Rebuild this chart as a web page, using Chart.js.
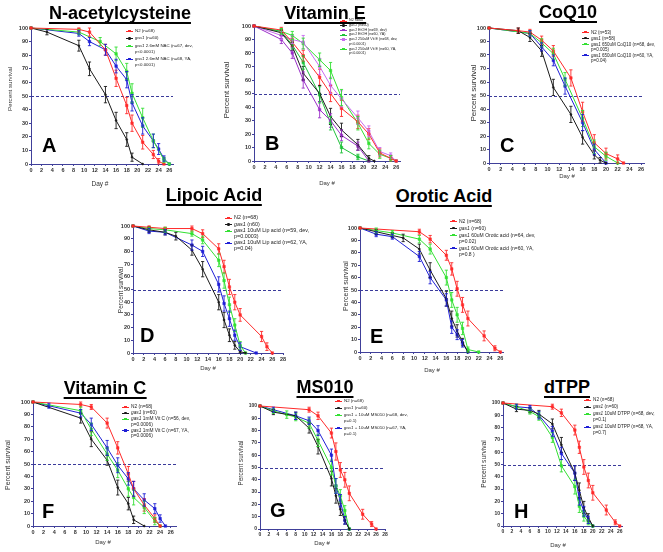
<!DOCTYPE html>
<html>
<head>
<meta charset="utf-8">
<script src="https://cdn.jsdelivr.net/npm/chart.js@4.4.1/dist/chart.umd.min.js"></script>
<style>
  body { margin: 0; background: #fff; font-family: "Liberation Sans", Arial, sans-serif; }
  #fig { position: relative; width: 663px; height: 552px; overflow: hidden; background: #fff; }
  canvas { position: absolute; }
  .ttl { position: absolute; font-weight: bold; font-size: 18px; line-height: 18px; white-space: nowrap;
         border-bottom: 2.5px solid #000; transform: translateX(-50%); color: #000; }
  .let { position: absolute; font-weight: bold; font-size: 20px; line-height: 20px; color: #000; }
  .ytl { position: absolute; white-space: nowrap; color: #333; transform: translate(-50%, -50%) rotate(-90deg); }
  .xtl { position: absolute; white-space: nowrap; color: #333; transform: translate(-50%, -50%); }
  .leg { position: absolute; color: #222; }
  .leg .it { position: relative; white-space: pre; }
  .leg .sw { position: absolute; left: 0; width: 7px; height: 1px; }
  .leg .mk { position: absolute; left: 2.3px; top: -1px; width: 2.4px; height: 2.4px; }
</style>
</head>
<body>
<div id="fig"></div>
<script>
// ---- data: [day, % survival, sem] ----
// A  N-acetylcysteine
const nacN2   = [[0,100,0],[9,99,2],[11,97,3],[14,84,4],[16,63,6],[18,43,6],[19,30,6],[21,16,5],[23,7,3],[24,2,2],[25,0,0]];
const nacGas1 = [[0,100,0],[3,97,2],[9,87,4],[11,70,5],[14,51,6],[16,32,6],[18,18,5],[19,5,3],[21,0,0]];
const nacDev  = [[0,100,0],[9,97,2],[13,90,3],[16,81,5],[18,68,6],[19,52,7],[21,34,7],[23,17,5],[25,3,2],[26,0,0]];
const nacYA   = [[0,100,0],[9,96,2],[11,90,3],[14,84,4],[16,72,5],[18,62,6],[19,45,6],[21,28,6],[23,17,5],[24,11,4],[25,4,2],[26,0,0]];
const nacLabels = ['N2 (n=68)', 'gas1 (n=60)', 'gas1 2.6mM NAC (n=67, dev,\np<0.0001)', 'gas1 2.6mM NAC (n=68, YA,\np<0.0001)'];

// B  Vitamin E
const veN2      = [[0,100,0],[5,97,2],[7,88,3],[9,78,4],[12,62,6],[14,50,6],[16,39,6],[19,29,5],[21,20,4],[23,6,3],[25,2,2],[26,0,0]];
const veGas1    = [[0,100,0],[5,95,2],[7,85,3],[9,65,5],[12,50,6],[14,33,6],[16,23,5],[19,12,4],[21,2,2],[22,0,0]];
const veEtohDev = [[0,100,0],[5,90,3],[7,80,4],[9,60,6],[12,38,6],[14,30,5],[16,19,4],[19,11,3],[21,0,0]];
const veEtohYA  = [[0,100,0],[5,96,2],[7,86,3],[9,73,5],[12,49,6],[14,28,5],[16,10,4],[19,3,2],[21,0,0]];
const veDev     = [[0,100,0],[5,93,3],[7,90,3],[9,88,5],[12,70,6],[14,56,6],[16,46,6],[19,32,5],[21,22,4],[23,7,3],[25,4,2],[26,0,0]];
const veYA      = [[0,100,0],[5,96,2],[7,93,3],[9,87,4],[12,75,5],[14,67,6],[16,47,6],[19,28,5],[21,13,4],[23,5,3],[25,2,2],[26,0,0]];
const veLabels = ['N2 n=60', 'gas1 (n=60)', 'gas1 EtOH (n=69, dev)', 'gas1 EtOH (n=60, YA)',
                  'gas1 250uM Vit E (n=68, dev,\np<0.0001)', 'gas1 250uM Vit E (n=60, YA,\np<0.0001)'];

// C  CoQ10
const coqN2   = [[0,100,0],[5,98,2],[7,97,2],[9,91,3],[11,83,4],[14,63,6],[16,38,7],[18,15,6],[20,7,4],[22,3,3],[23,0,0]];
const coqGas1 = [[0,100,0],[5,98,2],[7,93,3],[9,83,4],[11,56,6],[14,36,6],[16,19,5],[18,6,3],[19,2,2],[20,0,0]];
const coqDev  = [[0,100,0],[7,96,2],[9,89,3],[11,81,4],[13,62,5],[16,33,6],[18,12,5],[20,5,3],[22,0,0]];
const coqYA   = [[0,100,0],[7,96,2],[9,86,3],[11,76,4],[13,57,6],[16,30,6],[18,10,4],[20,0,0]];
const coqLabels = ['N2 (n=53)', 'gas1 (n=58)', 'gas1 650uM CoQ10 (n=68, dev,\np=0.005)', 'gas1 650uM CoQ10 (n=60, YA,\np=0.04)'];

// D  Lipoic Acid
const lipN2   = [[0,100,0],[3,99,1],[6,98,1],[11,98,2],[13,94,3],[16,82,4],[17,68,5],[18,52,6],[19,40,6],[20,30,5],[24,13,4],[25,5,3],[26,0,0]];
const lipGas1 = [[0,100,0],[3,97,2],[6,95,2],[8,92,3],[11,81,4],[13,66,6],[16,40,6],[17,26,6],[18,14,5],[19,6,3],[20,1,1],[21,0,0]];
const lipDev  = [[0,100,0],[3,98,1],[6,97,2],[11,94,2],[13,89,3],[16,73,5],[17,57,6],[18,38,6],[19,22,5],[20,6,3],[21,0,0]];
const lipYA   = [[0,100,0],[3,96,2],[6,95,2],[11,85,4],[13,80,4],[16,54,6],[17,39,6],[18,27,6],[19,14,4],[20,5,3],[23,0,0]];
const lipLabels = ['N2 (n=68)', 'gas1 (n60)', 'gas1 10uM Lip acid (n=59, dev,\np=0.0003)', 'gas1 10uM Lip acid (n=62, YA,\np=0.04)'];

// E  Orotic Acid
const oroN2   = [[0,100,0],[11,97,2],[13,91,3],[16,78,4],[17,67,5],[18,51,6],[19,38,6],[20,27,6],[23,13,4],[25,3,2],[26,0,0]];
const oroGas1 = [[0,100,0],[3,97,2],[6,94,2],[8,92,3],[11,83,4],[13,66,6],[16,43,6],[17,27,6],[18,17,5],[19,8,3],[20,0,0]];
const oroDev  = [[0,100,0],[3,98,2],[6,96,2],[11,91,3],[13,83,4],[16,60,6],[17,42,6],[18,30,6],[19,19,5],[20,2,2],[22,0,0]];
const oroYA   = [[0,100,0],[3,95,2],[6,93,2],[11,77,4],[13,60,5],[16,42,5],[17,20,5],[18,14,4],[19,7,3],[20,0,0]];
const oroLabels = ['N2 (n=68)', 'gas1 (n=60)', 'gas1 60uM Orotic acid (n=64, dev,\np=0.02)', 'gas1 60uM Orotic acid (n=60, YA,\np=0.8 )'];

// F  Vitamin C
const vcN2   = [[0,100,0],[9,98,2],[11,96,2],[14,83,4],[16,63,5],[18,42,6],[19,30,6],[21,17,5],[23,6,3],[24,0,0]];
const vcGas1 = [[0,100,0],[9,87,4],[11,70,6],[14,53,4],[16,31,6],[18,18,5],[19,5,3],[21,0,0]];
const vcDev  = [[0,100,0],[9,93,3],[11,78,5],[14,58,5],[16,45,6],[18,30,6],[19,23,6],[21,15,5],[23,4,3],[24,0,0]];
const vcYA   = [[0,100,0],[3,97,2],[9,91,3],[11,82,5],[14,63,6],[16,49,6],[18,38,5],[19,30,6],[21,21,5],[23,14,4],[24,6,3],[25,0,0]];
const vcLabels = ['N2 (n=68)', 'gas1 (n=60)', 'gas1 1mM Vit C (n=56, dev,\np=0.0006)', 'gas1 1mM Vit C (n=67, YA,\np=0.0006)'];

// G  MS010
const msN2   = [[0,100,0],[11,97,2],[13,92,3],[16,78,4],[17,63,7],[18,48,6],[19,40,6],[20,29,6],[23,12,4],[25,4,2],[26,0,0]];
const msGas1 = [[0,100,0],[3,95,2],[8,92,3],[11,82,4],[13,67,6],[16,41,6],[17,27,6],[18,16,5],[19,7,3],[20,0,0]];
const msDev  = [[0,100,0],[3,96,2],[6,93,3],[8,91,3],[11,86,4],[13,72,5],[16,50,6],[17,35,6],[18,27,5],[19,15,4],[20,0,0]];
const msYA   = [[0,100,0],[3,97,2],[8,92,3],[11,88,3],[13,80,4],[16,60,5],[17,35,6],[18,23,5],[19,7,3],[20,0,0]];
const msLabels = ['N2 (n=68)', 'gas1 (n=60)', 'gas1 + 10uM MS010 (n=68, dev,\np=0.1)', 'gas1 + 10uM MS010 (n=67, YA,\np=0.1)'];

// H  dTPP
const dtN2   = [[0,100,0],[11,97,2],[13,92,3],[16,78,4],[17,64,5],[18,48,6],[19,37,6],[20,27,6],[23,13,4],[25,3,2],[26,0,0]];
const dtGas1 = [[0,100,0],[3,95,2],[6,94,2],[8,91,3],[11,83,4],[13,66,6],[16,43,6],[17,29,6],[18,15,5],[19,7,3],[20,0,0]];
const dtDev  = [[0,100,0],[3,97,2],[6,93,2],[8,89,3],[11,72,4],[13,49,5],[16,32,6],[17,16,5],[18,8,4],[19,3,2],[20,0,0]];
const dtYA   = [[0,100,0],[3,97,2],[6,96,2],[8,90,3],[11,77,4],[13,59,5],[16,43,6],[17,22,5],[18,12,4],[19,5,3],[20,0,0]];
const dtLabels = ['N2 (n=68)', 'gas1 (n=60)', 'gas1 10uM DTPP (n=68, dev,\np=0.1)', 'gas1 10uM DTPP (n=68, YA,\np=0.7)'];

const dayTicks = [0, 2, 4, 6, 8, 10, 12, 14, 16, 18, 20, 22, 24, 26, 28];
const pctTicks = [0, 10, 20, 30, 40, 50, 60, 70, 80, 90, 100];

// ---- styles ----
const RED = '#ff2a2a', BLK = '#1a1a1a', GRN = '#33e033', BLU = '#1f1fd6';
const PUR = '#9b30c8', VIO = '#c86bf0', GRN2 = '#1fc23a';
const AXIS = '#40409a';
const FONT = '"Liberation Sans", Arial, sans-serif';
const std4 = [RED, BLK, GRN, BLU];

// rect = [x of day 0, x of axis end, y of 100%, y of 0%]
const panels = [
  { title: 'N-acetylcysteine', letter: 'A', series: [nacN2, nacGas1, nacDev, nacYA], labels: nacLabels, colors: std4,
    rect: [30.7, 173, 27.7, 163.3], xmax: 26.7, tt: [120, 19.3], lt: [42, 152], yt: [9.3, 89, 6.2], xt: [100, 183, 6.5],
    lg: [126, 28, 4.4, 6, 1.3], tf: 5.5 },
  { title: 'Vitamin E', letter: 'B', series: [veN2, veGas1, veEtohDev, veEtohYA, veDev, veYA], labels: veLabels,
    colors: [RED, BLK, PUR, GRN2, VIO, GRN],
    rect: [254, 399.8, 25.7, 160.7], xmax: 26.7, tt: [325, 19.3], lt: [265, 150], yt: [226, 90, 8], xt: [327, 183, 6],
    lg: [340, 18.3, 3.7, 4.7, 0], tf: 5.5 },
  { title: 'CoQ10', letter: 'C', series: [coqN2, coqGas1, coqDev, coqYA], labels: coqLabels, colors: std4,
    rect: [489, 644, 27.7, 162.3], xmax: 26.5, tt: [568, 18.3], lt: [500, 152], yt: [473, 93, 8], xt: [567, 176, 6],
    lg: [582, 29.5, 4.5, 5, 1], tf: 5.5 },
  { title: 'Lipoic Acid', letter: 'D', series: [lipN2, lipGas1, lipDev, lipYA], labels: lipLabels, colors: std4,
    rect: [132.6, 282.4, 226, 353], xmax: 28, tt: [214, 200.7], lt: [140, 342], yt: [120, 290, 6.5], xt: [208, 368, 6],
    lg: [225, 215, 5.4, 5.5, 1], tf: 5.5 },
  { title: 'Orotic Acid', letter: 'E', series: [oroN2, oroGas1, oroDev, oroYA], labels: oroLabels, colors: std4,
    rect: [360, 503.4, 227.7, 351.7], xmax: 26.5, tt: [444, 201.7], lt: [370, 343], yt: [345, 286, 7], xt: [432, 370, 6],
    lg: [450, 218, 5, 6, 1], tf: 5.5 },
  { title: 'Vitamin C', letter: 'F', series: [vcN2, vcGas1, vcDev, vcYA], labels: vcLabels, colors: std4,
    rect: [32.7, 175.3, 401.7, 525.7], xmax: 27, tt: [105, 394.3], lt: [42, 518], yt: [7, 465, 7], xt: [103, 542, 6],
    lg: [122, 404, 4.8, 5.5, 0.5], tf: 5.5 },
  { title: 'MS010', letter: 'G', series: [msN2, msGas1, msDev, msYA], labels: msLabels, colors: std4,
    rect: [260, 385, 405.7, 528.3], xmax: 28, tt: [325, 393.3], lt: [270, 517], yt: [240, 463, 6.3], xt: [322, 543, 6],
    lg: [335, 398, 4.4, 6, 1], tf: 5 },
  { title: 'dTPP', letter: 'H', series: [dtN2, dtGas1, dtDev, dtYA], labels: dtLabels, colors: std4,
    rect: [503.3, 622.3, 403.3, 526.7], xmax: 26.5, tt: [567, 393.3], lt: [514, 518], yt: [483, 464, 6.7], xt: [558, 545, 6],
    lg: [584, 397, 4.7, 6, 1], tf: 5 }
];

const fig = document.getElementById('fig');

// error bars drawn through the chart's own scales
const errBars = {
  id: 'errBars',
  afterDatasetsDraw(chart) {
    const { ctx, scales: { x, y } } = chart;
    chart.data.datasets.forEach(ds => {
      ctx.save();
      ctx.strokeStyle = ds.borderColor;
      ctx.lineWidth = 0.9;
      ds.data.forEach((pt, j) => {
        const e = ds.sem[j];
        if (!e) return;
        const px = x.getPixelForValue(pt.x);
        const y1 = y.getPixelForValue(Math.min(100, pt.y + e));
        const y2 = y.getPixelForValue(Math.max(0, pt.y - e));
        ctx.beginPath();
        ctx.moveTo(px, y1); ctx.lineTo(px, y2);
        ctx.moveTo(px - 1.6, y1); ctx.lineTo(px + 1.6, y1);
        ctx.moveTo(px - 1.6, y2); ctx.lineTo(px + 1.6, y2);
        ctx.stroke();
      });
      ctx.restore();
    });
  }
};

// dashed 50% line
const halfLine = {
  id: 'halfLine',
  beforeDatasetsDraw(chart) {
    const { ctx, chartArea: a, scales: { y } } = chart;
    const py = Math.round(y.getPixelForValue(50)) + 0.5;
    ctx.save();
    ctx.strokeStyle = '#3a3a9a';
    ctx.lineWidth = 1;
    ctx.setLineDash([3, 2]);
    ctx.beginPath(); ctx.moveTo(a.left, py); ctx.lineTo(a.right, py); ctx.stroke();
    ctx.restore();
  }
};

function addDiv(cls, txt, css) {
  const d = document.createElement('div');
  d.className = cls;
  d.textContent = txt;
  Object.assign(d.style, css);
  fig.appendChild(d);
  return d;
}

function makePanel(p) {
  const padL = 22, padT = 5, padR = 6, padB = 12;
  const [L, R, T, B] = p.rect;
  const left = Math.round(L - padL), top = Math.round(T - padT);
  const w = Math.round(R - L) + padL + padR, h = Math.round(B - T) + padT + padB;
  const cv = document.createElement('canvas');
  cv.width = w; cv.height = h;
  cv.style.left = left + 'px'; cv.style.top = top + 'px';
  cv.style.width = w + 'px'; cv.style.height = h + 'px';
  fig.appendChild(cv);

  const datasets = p.series.map((s, i) => ({
    label: p.labels[i],
    data: s.map(r => ({ x: r[0], y: r[1] })),
    sem: s.map(r => r[2]),
    borderColor: p.colors[i],
    backgroundColor: p.colors[i],
    borderWidth: 1,
    pointStyle: p.colors[i] === BLK ? 'circle' : 'rect',
    pointRadius: p.colors[i] === BLK ? 1 : 1.8,
    pointBorderWidth: 0.5,
    tension: 0,
    clip: 6
  }));

  const tickFont = { size: p.tf, family: FONT, weight: 'bold' };
  new Chart(cv, {
    type: 'line',
    data: { datasets },
    options: {
      responsive: false,
      animation: false,
      events: [],
      layout: { padding: { left: 0, top: padT, right: padR, bottom: 0 } },
      plugins: { legend: { display: false }, tooltip: { enabled: false } },
      scales: {
        x: {
          type: 'linear', min: 0, max: p.xmax,
          afterFit: s => { s.height = padB; },
          afterBuildTicks: s => { s.ticks = dayTicks.filter(v => v <= p.xmax).map(v => ({ value: v })); },
          ticks: { font: tickFont, color: '#333', padding: 1, maxRotation: 0, autoSkip: false, includeBounds: false },
          grid: { display: true, drawOnChartArea: false, drawTicks: true, tickLength: 2, color: AXIS },
          border: { display: true, color: AXIS, width: 1 }
        },
        y: {
          min: 0, max: 100,
          afterFit: s => { s.width = padL; },
          afterBuildTicks: s => { s.ticks = pctTicks.map(v => ({ value: v })); },
          ticks: { font: tickFont, color: '#333', padding: 1, autoSkip: false },
          grid: { display: true, drawOnChartArea: false, drawTicks: true, tickLength: 2, color: AXIS },
          border: { display: true, color: AXIS, width: 1 }
        }
      }
    },
    plugins: [halfLine, errBars]
  });

  // titles and letters
  addDiv('ttl', p.title, { left: p.tt[0] + 'px', top: (p.tt[1] - 15.2) + 'px' });
  addDiv('let', p.letter, { left: p.lt[0] + 'px', top: (p.lt[1] - 16.9) + 'px' });
  addDiv('ytl', 'Percent survival', { left: p.yt[0] + 'px', top: p.yt[1] + 'px', fontSize: p.yt[2] + 'px' });
  addDiv('xtl', 'Day #', { left: p.xt[0] + 'px', top: p.xt[1] + 'px', fontSize: p.xt[2] + 'px' });

  // legend
  const [gx, gy, fs, lh, gap] = p.lg;
  const lg = document.createElement('div');
  lg.className = 'leg';
  Object.assign(lg.style, { left: gx + 'px', top: gy + 'px', fontSize: fs + 'px', lineHeight: lh + 'px' });
  p.labels.forEach((lab, i) => {
    const it = document.createElement('div');
    it.className = 'it';
    it.style.paddingLeft = '9px';
    it.style.marginBottom = gap + 'px';
    it.innerHTML = lab.replace(/gas1/g, '<i>gas1</i>');
    const sw = document.createElement('span');
    sw.className = 'sw';
    sw.style.top = (lh / 2) + 'px';
    sw.style.background = p.colors[i];
    const mk = document.createElement('span');
    mk.className = 'mk';
    mk.style.background = p.colors[i];
    if (p.colors[i] === BLK) mk.style.borderRadius = '50%';
    sw.appendChild(mk);
    it.prepend(sw);
    lg.appendChild(it);
  });
  fig.appendChild(lg);
}

panels.forEach(makePanel);
</script>
</body>
</html>
